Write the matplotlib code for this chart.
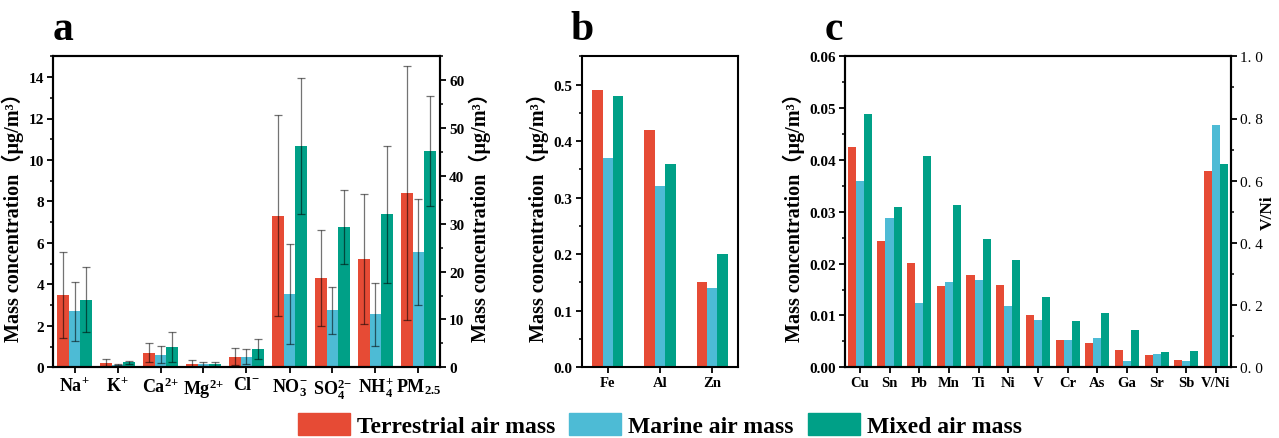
import numpy as np
import matplotlib
matplotlib.use('Agg')
import matplotlib.pyplot as plt
from matplotlib.patches import Patch
from matplotlib.ticker import MultipleLocator, FuncFormatter

plt.rcParams['font.family'] = ['Liberation Serif', 'Noto Sans CJK SC']
plt.rcParams['font.weight'] = 'bold'
plt.rcParams['mathtext.fontset'] = 'custom'
plt.rcParams['mathtext.rm'] = 'Liberation Serif:bold'
plt.rcParams['mathtext.it'] = 'Liberation Serif:italic:bold'
plt.rcParams['mathtext.bf'] = 'Liberation Serif:bold'
plt.rcParams['mathtext.default'] = 'rm'

# colours
c_terr = '#E64B35'
c_mar = '#4DBBD5'
c_mix = '#00A087'

# panel a: water-soluble ions (left axis) + PM2.5 (right axis)
ions = ['Na$^{+}$', 'K$^{+}$', 'Ca$^{2{+}}$', 'Mg$^{2{+}}$', 'Cl$^{-}$',
        'NO$_3^{-}$', 'SO$_4^{2{-}}$', 'NH$_4^{+}$']
terr_ion = [3.50, 0.23, 0.71, 0.15, 0.52, 7.31, 4.30, 5.22]
terr_ion_sd = [2.07, 0.17, 0.45, 0.20, 0.40, 4.85, 2.32, 3.15]
mar_ion = [2.71, 0.12, 0.61, 0.16, 0.52, 3.54, 2.75, 2.55]
mar_ion_sd = [1.42, 0.03, 0.40, 0.11, 0.36, 2.43, 1.12, 1.52]
mix_ion = [3.26, 0.25, 0.97, 0.16, 0.88, 10.68, 6.76, 7.39]
mix_ion_sd = [1.58, 0.07, 0.72, 0.11, 0.48, 3.28, 1.78, 3.30]
pm_label = 'PM$_{2.5}$'
pm = [36.4, 24.1, 45.2]
pm_sd = [26.5, 11.0, 11.5]

# panel b: major metals
metals_b = ['Fe', 'Al', 'Zn']
terr_b = [0.49, 0.42, 0.15]
mar_b = [0.37, 0.32, 0.14]
mix_b = [0.48, 0.36, 0.20]

# panel c: trace metals (left axis) + V/Ni ratio (right axis)
metals_c = ['Cu', 'Sn', 'Pb', 'Mn', 'Ti', 'Ni', 'V', 'Cr', 'As', 'Ga', 'Sr', 'Sb']
terr_c = [0.0425, 0.0244, 0.0202, 0.0156, 0.0179, 0.0158, 0.0100, 0.0052, 0.0046, 0.0034, 0.0024, 0.0015]
mar_c = [0.0360, 0.0288, 0.0124, 0.0164, 0.0168, 0.0118, 0.0092, 0.0052, 0.0057, 0.0012, 0.0025, 0.0012]
mix_c = [0.0489, 0.0309, 0.0408, 0.0313, 0.0248, 0.0207, 0.0136, 0.0090, 0.0104, 0.0071, 0.0029, 0.0032]
ratio_label = 'V/Ni'
vni = [0.63, 0.78, 0.655]

W, H = 1279, 439
fig = plt.figure(figsize=(W / 100, H / 100), dpi=100)

def box(l, r, t=57.3, b=368.3):
    return [l / W, 1 - b / H, (r - l) / W, (b - t) / H]

ylab = 'Mass concentration（μg/m³）'
ylab_size = 14.5
err_kw = dict(ecolor='black', elinewidth=0.9, capsize=3, capthick=0.9, alpha=0.55)

def style(ax, size=11):
    for s in ax.spines.values():
        s.set_linewidth(1.5)
    ax.tick_params(axis='both', which='major', direction='out', width=1.3, length=4,
                   labelsize=size, pad=2.5)
    ax.tick_params(axis='both', which='minor', direction='out', width=1.1, length=2.5)

# ---- panel a
axa = fig.add_axes(box(53, 440))
axa2 = axa.twinx()
w = 0.27
x = np.arange(len(ions))
axa.bar(x - w, terr_ion, w, color=c_terr, yerr=terr_ion_sd, error_kw=err_kw)
axa.bar(x, mar_ion, w, color=c_mar, yerr=mar_ion_sd, error_kw=err_kw)
axa.bar(x + w, mix_ion, w, color=c_mix, yerr=mix_ion_sd, error_kw=err_kw)
xp = len(ions)
axa2.bar([xp - w, xp, xp + w], pm, w, color=[c_terr, c_mar, c_mix],
         yerr=pm_sd, error_kw=err_kw)
axa.set_xlim(-0.5, len(ions) + 0.5)
axa.set_ylim(0, 15)
axa2.set_ylim(0, 65)
axa.set_xticks(list(x) + [xp])
axa.set_xticklabels(ions + [pm_label])
axa.yaxis.set_major_locator(MultipleLocator(2))
axa.yaxis.set_minor_locator(MultipleLocator(1))
axa2.yaxis.set_major_locator(MultipleLocator(10))
axa2.yaxis.set_minor_locator(MultipleLocator(5))
style(axa)
style(axa2)
axa.tick_params(axis='x', labelsize=13)
axa.set_ylabel(ylab, fontsize=ylab_size, fontweight='bold', labelpad=3)
axa2.set_ylabel(ylab, fontsize=ylab_size, fontweight='bold', labelpad=3)

# ---- panel b
axb = fig.add_axes(box(581.7, 738.3))
wb = 0.2
xb = np.arange(len(metals_b))
axb.bar(xb - wb, terr_b, wb, color=c_terr)
axb.bar(xb, mar_b, wb, color=c_mar)
axb.bar(xb + wb, mix_b, wb, color=c_mix)
axb.set_xlim(-0.5, len(metals_b) - 0.5)
axb.set_ylim(0, 0.55)
axb.set_xticks(xb)
axb.set_xticklabels(metals_b)
axb.yaxis.set_major_locator(MultipleLocator(0.1))
axb.yaxis.set_minor_locator(MultipleLocator(0.05))
axb.yaxis.set_major_formatter(FuncFormatter(lambda v, p: f'{v:.1f}'))
style(axb)
axb.tick_params(axis='x', labelsize=10.5)
axb.set_ylabel(ylab, fontsize=ylab_size, fontweight='bold', labelpad=3)

# ---- panel c
axc = fig.add_axes(box(845, 1230.7))
axc2 = axc.twinx()
xc = np.arange(len(metals_c))
axc.bar(xc - w, terr_c, w, color=c_terr)
axc.bar(xc, mar_c, w, color=c_mar)
axc.bar(xc + w, mix_c, w, color=c_mix)
xr = len(metals_c)
axc2.bar([xr - w, xr, xr + w], vni, w, color=[c_terr, c_mar, c_mix])
axc.set_xlim(-0.5, len(metals_c) + 0.5)
axc.set_ylim(0, 0.06)
axc2.set_ylim(0, 1.0)
axc.set_xticks(list(xc) + [xr])
axc.set_xticklabels(metals_c + [ratio_label])
axc.yaxis.set_major_locator(MultipleLocator(0.01))
axc.yaxis.set_minor_locator(MultipleLocator(0.005))
axc.yaxis.set_major_formatter(FuncFormatter(lambda v, p: f'{v:.2f}'))
axc2.yaxis.set_major_locator(MultipleLocator(0.2))
axc2.yaxis.set_minor_locator(MultipleLocator(0.1))
axc2.yaxis.set_major_formatter(FuncFormatter(lambda v, p: f'{v:.1f}'.replace('.', '. ')))
style(axc)
style(axc2)
axc.tick_params(axis='x', labelsize=10.5)
for t in axc2.get_yticklabels():
    t.set_fontweight('normal')
    t.set_fontsize(11)
axc.set_ylabel(ylab, fontsize=ylab_size, fontweight='bold', labelpad=3)
axc2.set_ylabel(ratio_label, fontsize=12.5, fontweight='bold')
axc2.yaxis.set_label_coords((1260 - 845) / (1230.7 - 845), 0.5)

# panel letters
for lx, letter in [(53, 'a'), (570, 'b'), (825, 'c')]:
    fig.text(lx / W, 1 - 40 / H, letter, fontsize=30, fontweight='bold', va='baseline')

handles = [Patch(color=c_terr), Patch(color=c_mar), Patch(color=c_mix)]
fig.legend(handles, ['Terrestrial air mass', 'Marine air mass', 'Mixed air mass'],
           loc='center', bbox_to_anchor=(0.516, 0.03), ncol=3, frameon=False,
           fontsize=17, handlelength=2.2, handleheight=1.1, handletextpad=0.3,
           columnspacing=0.6, borderaxespad=0, borderpad=0)

fig.savefig('out.png', dpi=100)
